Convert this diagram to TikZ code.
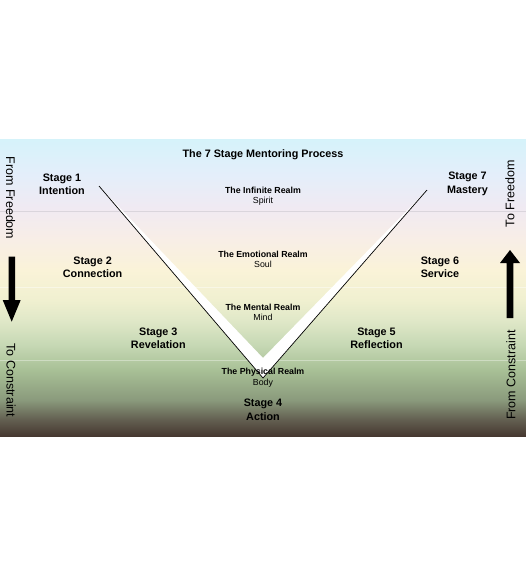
\documentclass[tikz,border=0pt]{standalone}
\usepackage{fontspec}
\setmainfont{Liberation Sans}
\usetikzlibrary{arrows.meta}
\definecolor{g00}{HTML}{463830}
\definecolor{g01}{HTML}{625E50}
\definecolor{g02}{HTML}{8A9A7C}
\definecolor{g03}{HTML}{A8C096}
\definecolor{g04}{HTML}{C6D8B4}
\definecolor{g05}{HTML}{E0E8C8}
\definecolor{g06}{HTML}{F0F0D0}
\definecolor{g07}{HTML}{FAF3D8}
\definecolor{g08}{HTML}{F8EEE6}
\definecolor{g09}{HTML}{F0EAF2}
\definecolor{g10}{HTML}{E4EEFA}
\definecolor{g11}{HTML}{D5F3FA}
\pgfdeclareverticalshading{bgshade}{526pt}{%
  color(0pt)=(g00); color(16pt)=(g01); color(36pt)=(g02); color(66pt)=(g03);
  color(91pt)=(g04); color(116pt)=(g05); color(136pt)=(g06); color(166pt)=(g07);
  color(196pt)=(g08); color(228pt)=(g09); color(261pt)=(g10); color(298pt)=(g11)}
\tikzset{
  stagelbl/.style={font=\fontsize{10.8}{13.8}\selectfont\bfseries, align=center, inner sep=0pt},
  realmlbl/.style={font=\fontsize{8.8}{10.4}\selectfont, align=center, inner sep=0pt},
  sidelbl/.style={font=\fontsize{12.5}{14}\selectfont, inner sep=0pt},
  bandline/.style={line width=0.8pt},
  vedge/.style={black, line width=0.7pt},
  bigarrow/.style={fill=black, draw=none}
}
\begin{document}
\begin{tikzpicture}[x=1pt,y=-1pt]
\useasboundingbox (0,0) rectangle (526,576);
\fill[white] (0,0) rectangle (526,576);
\node[anchor=north west, inner sep=0pt, outer sep=0pt] (bg) at (0,138) {\pgfuseshading{bgshade}};
% band lines
\draw[bandline, color=black!9!g09] (0,211) -- (526,211);
\draw[bandline, white, opacity=0.45] (0,287) -- (526,287);
\draw[bandline, white, opacity=0.35] (0,360) -- (526,360);
% V shape
\coordinate (vl) at (99,186);
\coordinate (vr) at (427,190);
\coordinate (vo) at (263,378);
\coordinate (vi) at (263,358);
\fill[white] (vl) -- (vo) -- (vr) -- (vi) -- cycle;
\draw[vedge] (vl) -- (vo) -- (vr);
% title
\node[stagelbl] (title) at (263,155) {The 7 Stage Mentoring Process};
% realms
\node[realmlbl] (r1) at (263,196.5) {{\bfseries The Infinite Realm}\\Spirit};
\node[realmlbl] (r2) at (263,259.6) {{\bfseries The Emotional Realm}\\Soul};
\node[realmlbl] (r3) at (263,312.2) {{\bfseries The Mental Realm}\\Mind};
\node[realmlbl] (r4) at (263,377.8) {{\bfseries The Physical Realm}\\Body};
% stages
\node[stagelbl] (s1) at (62,184.2) {Stage 1\\Intention};
\node[stagelbl] (s2) at (92.6,267.3) {Stage 2\\Connection};
\node[stagelbl] (s3) at (158.3,338.3) {Stage 3\\Revelation};
\node[stagelbl] (s4) at (263,410) {Stage 4\\Action};
\node[stagelbl] (s5) at (376.5,338.3) {Stage 5\\Reflection};
\node[stagelbl] (s6) at (440,267.3) {Stage 6\\Service};
\node[stagelbl] (s7) at (467.5,184.2) {Stage 7\\Mastery};
% side labels
\node[sidelbl, rotate=-90] (ff) at (10.5,198) {From Freedom};
\node[sidelbl, rotate=-90] (tc) at (11,380.5) {To Constraint};
\node[sidelbl, rotate=90] (tf) at (510,193.7) {To Freedom};
\node[sidelbl, rotate=90] (fc) at (511,375) {From Constraint};
% arrows
\fill[bigarrow] (8.5,256.7) -- (15,256.7) -- (15,300) -- (20.7,300) -- (11.7,321.7) -- (2.7,300) -- (8.5,300) -- cycle;
\fill[bigarrow] (506.7,318) -- (513.3,318) -- (513.3,263) -- (520,263) -- (510,250) -- (500,263) -- (506.7,263) -- cycle;
\end{tikzpicture}
\end{document}
